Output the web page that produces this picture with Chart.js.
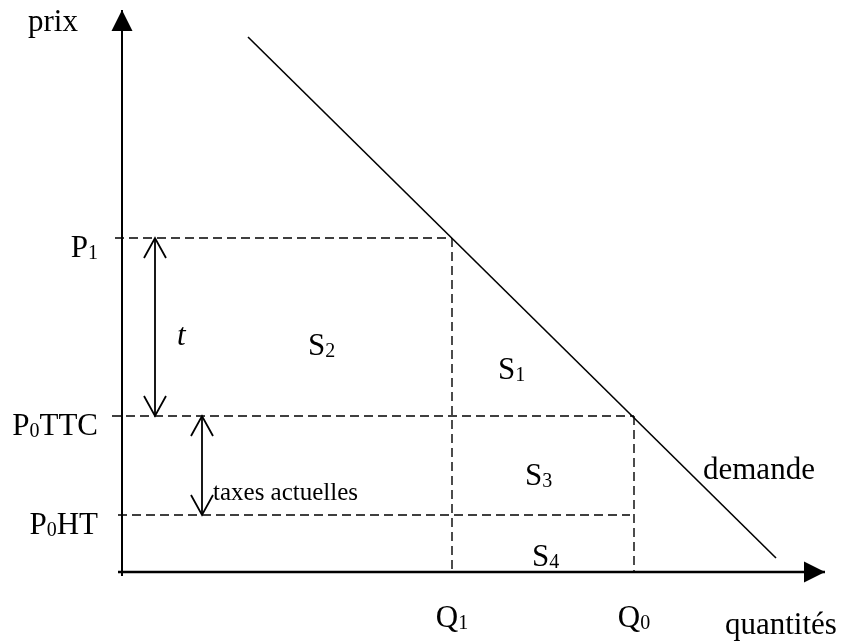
<!DOCTYPE html>
<html>
<head>
<meta charset="utf-8">
<script src="https://cdn.jsdelivr.net/npm/chart.js@4.4.1/dist/chart.umd.min.js"></script>
<style>
  html, body { margin: 0; padding: 0; background: #fff; }
  canvas { display: block; }
</style>
</head>
<body>
<canvas id="graph" width="841" height="641"></canvas>
<script>
// Données (unités arbitraires, origine au croisement des axes)
const qLabels = ["Q_1", "Q_0"];
const qValues = [33.0, 51.2];

const pLabels = ["P_1", "P_0TTC", "P_0HT"];
const pValues = [33.4, 15.6, 5.7];
const pDashStart = [-0.7, -1.0, -0.4];

const demandQ = [12.6, 65.4];
const demandP = [53.5, 1.4];

const axisQ = [-0.4, 70.3];
const axisP = [-0.4, 56.2];

// flèches doubles : t (P0TTC -> P1) et taxes actuelles (P0HT -> P0TTC)
const arrowQ = [3.3, 8.0];

// textes libres
const freeLabels = [
    { text: "prix", x: -9.4, y: 54.1, align: "left" },
    { text: "t", x: 5.5, y: 22.7, align: "left", italic: true },
    { text: "S_2", x: 18.6, y: 21.7, align: "left" },
    { text: "S_1", x: 37.6, y: 19.3, align: "left" },
    { text: "S_3", x: 40.3, y: 8.7, align: "left" },
    { text: "S_4", x: 41.0, y: 0.6, align: "left" },
    { text: "demande", x: 58.1, y: 9.3, align: "left" },
    { text: "taxes actuelles", x: 9.1, y: 7.2, align: "left", size: 25 },
    { text: "quantités", x: 60.3, y: -6.2, align: "left" }
];

const FONT = "'Liberation Serif', 'Times New Roman', serif";
const SIZE = 31;

function pts(xs, ys) {
    return xs.map((x, i) => ({ x: x, y: ys[i] }));
}

function lineSet(data, width, dash) {
    return {
        data: data,
        showLine: true,
        borderColor: "#000",
        borderWidth: width,
        borderDash: dash || [],
        pointRadius: 0,
        pointHoverRadius: 0,
        fill: false,
        tension: 0
    };
}

// écrit un texte avec indices ("P_0TTC" -> P, 0 en indice, TTC)
function drawRich(ctx, str, x, y, align, size, italic) {
    const sub = Math.round(size * 0.65);
    const parts = [];
    for (let i = 0; i < str.length; i++) {
        if (str[i] === "_" && i + 1 < str.length) {
            parts.push({ t: str[i + 1], sub: true });
            i++;
        } else {
            if (parts.length && !parts[parts.length - 1].sub) parts[parts.length - 1].t += str[i];
            else parts.push({ t: str[i], sub: false });
        }
    }
    const style = italic ? "italic " : "";
    let total = 0;
    parts.forEach(p => {
        ctx.font = style + (p.sub ? sub : size) + "px " + FONT;
        p.w = ctx.measureText(p.t).width;
        total += p.w;
    });
    let cx = x;
    if (align === "right") cx = x - total;
    if (align === "center") cx = x - total / 2;
    ctx.textAlign = "left";
    ctx.textBaseline = "alphabetic";
    parts.forEach(p => {
        ctx.font = style + (p.sub ? sub : size) + "px " + FONT;
        ctx.fillText(p.t, cx, p.sub ? y + 2 : y);
        cx += p.w;
    });
}

function openHead(ctx, x, y, dir) {
    // dir = -1 pointe vers le haut, 1 vers le bas
    ctx.beginPath();
    ctx.moveTo(x - 11, y - dir * 20);
    ctx.lineTo(x, y);
    ctx.lineTo(x + 11, y - dir * 20);
    ctx.stroke();
}

const decorPlugin = {
    id: "decor",
    afterDatasetsDraw(chart) {
        const ctx = chart.ctx;
        const sx = chart.scales.x, sy = chart.scales.y;
        ctx.save();
        ctx.fillStyle = "#000";
        ctx.strokeStyle = "#000";

        // pointes des axes
        const ox = sx.getPixelForValue(0), oy = sy.getPixelForValue(0);
        const topY = sy.getPixelForValue(axisP[1]);
        ctx.beginPath();
        ctx.moveTo(ox, topY);
        ctx.lineTo(ox - 10.5, topY + 21);
        ctx.lineTo(ox + 10.5, topY + 21);
        ctx.closePath();
        ctx.fill();
        const rightX = sx.getPixelForValue(axisQ[1]);
        ctx.beginPath();
        ctx.moveTo(rightX, oy);
        ctx.lineTo(rightX - 21, oy - 10.5);
        ctx.lineTo(rightX - 21, oy + 10.5);
        ctx.closePath();
        ctx.fill();

        // têtes des flèches doubles
        ctx.lineWidth = 1.8;
        const tx = sx.getPixelForValue(arrowQ[0]);
        openHead(ctx, tx, sy.getPixelForValue(pValues[0]), -1);
        openHead(ctx, tx, sy.getPixelForValue(pValues[1]), 1);
        const ax = sx.getPixelForValue(arrowQ[1]);
        openHead(ctx, ax, sy.getPixelForValue(pValues[1]), -1);
        openHead(ctx, ax, sy.getPixelForValue(pValues[2]), 1);

        // étiquettes des prix
        pLabels.forEach((lab, i) => {
            const y = sy.getPixelForValue(pValues[i]);
            drawRich(ctx, lab, ox - 24, y + 19, "right", SIZE, false);
        });
        // étiquettes des quantités
        qLabels.forEach((lab, i) => {
            const x = sx.getPixelForValue(qValues[i]);
            drawRich(ctx, lab, x, oy + 55, "center", SIZE, false);
        });
        // autres textes
        freeLabels.forEach(l => {
            drawRich(ctx, l.text, sx.getPixelForValue(l.x), sy.getPixelForValue(l.y),
                l.align, l.size || SIZE, !!l.italic);
        });
        ctx.restore();
    }
};

const datasets = [
    // axes
    lineSet(pts(axisQ, [0, 0]), 2.5),
    lineSet(pts([0, 0], axisP), 2),
    // demande
    lineSet(pts(demandQ, demandP), 1.6),
    // pointillés horizontaux
    lineSet(pts([pDashStart[0], qValues[0]], [pValues[0], pValues[0]]), 1.4, [9, 5]),
    lineSet(pts([pDashStart[1], qValues[1]], [pValues[1], pValues[1]]), 1.4, [9, 5]),
    lineSet(pts([pDashStart[2], qValues[1] - 0.4], [pValues[2], pValues[2]]), 1.4, [9, 5]),
    // pointillés verticaux
    lineSet(pts([qValues[0], qValues[0]], [pValues[0], 0]), 1.4, [9, 5]),
    lineSet(pts([qValues[1], qValues[1]], [pValues[1], 0]), 1.4, [9, 5]),
    // tiges des flèches doubles
    lineSet(pts([arrowQ[0], arrowQ[0]], [pValues[1], pValues[0]]), 1.8),
    lineSet(pts([arrowQ[1], arrowQ[1]], [pValues[2], pValues[1]]), 1.8)
];

window.onload = function() {
    const ctx = document.getElementById("graph").getContext("2d");
    new Chart(ctx, {
        type: "scatter",
        data: { datasets: datasets },
        options: {
            responsive: false,
            animation: false,
            events: [],
            layout: { padding: 0 },
            plugins: {
                legend: { display: false },
                tooltip: { enabled: false }
            },
            scales: {
                x: { type: "linear", min: -12.2, max: 71.9, display: false },
                y: { type: "linear", min: -6.9, max: 57.2, display: false }
            }
        },
        plugins: [decorPlugin]
    });
};
</script>
</body>
</html>
